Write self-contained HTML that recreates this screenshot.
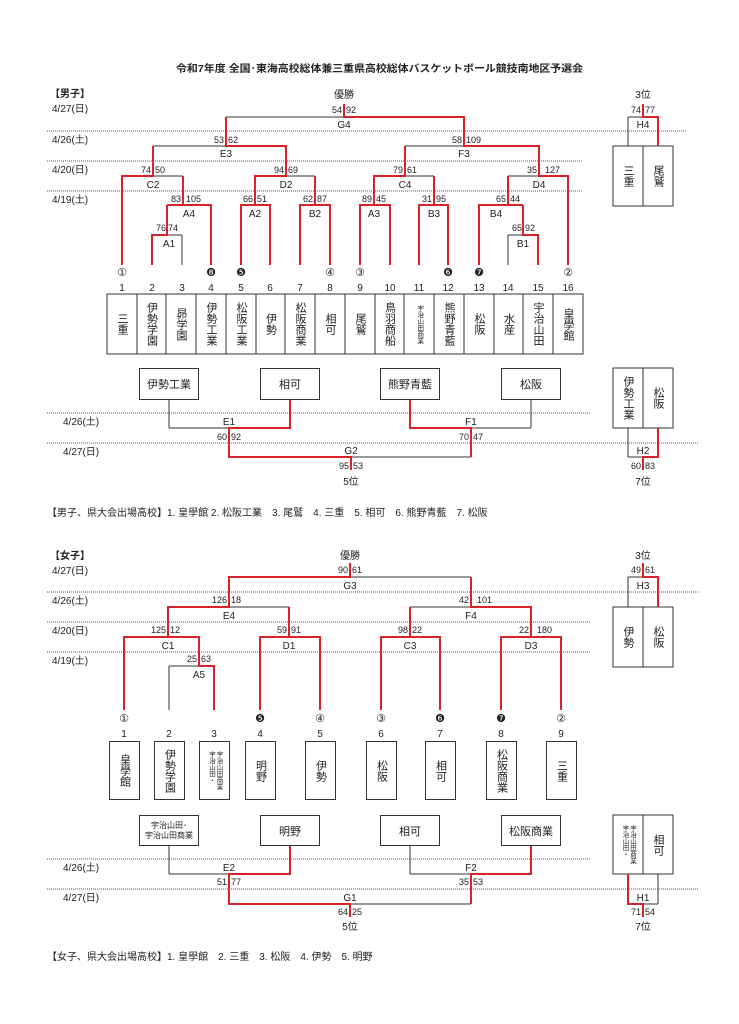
<!DOCTYPE html>
<html><head><meta charset="utf-8">
<style>
body{margin:0;background:#fff;}
#w{position:relative;width:739px;height:1024px;overflow:hidden;font-family:"Liberation Sans","Noto Sans CJK JP",sans-serif;color:#222;}
svg{position:absolute;left:0;top:0;}
.v{position:absolute;display:flex;align-items:center;justify-content:center;}
.v span{writing-mode:vertical-rl;text-orientation:upright;font-size:11px;line-height:12px;letter-spacing:0px;}
.v span.s{font-size:6.5px;line-height:7.5px;}
.h{position:absolute;display:flex;align-items:center;justify-content:center;border:1px solid #333;box-sizing:border-box;font-size:11px;background:#fff;text-align:center;}
</style></head><body><div id="w">
<svg width="739" height="1024" viewBox="0 0 739 1024" font-family="Liberation Sans, Noto Sans CJK JP, sans-serif" fill="#222">
<text x="176" y="72" font-size="10" font-weight="bold" textLength="407" lengthAdjust="spacingAndGlyphs">令和7年度 全国･東海高校総体兼三重県高校総体バスケットボール競技南地区予選会</text>
<g stroke="#555" stroke-width="1" stroke-dasharray="1,1">
<line x1="47" y1="131" x2="687" y2="131"/><line x1="47" y1="161" x2="583" y2="161"/><line x1="47" y1="191" x2="583" y2="191"/>
<line x1="47" y1="413" x2="591" y2="413"/><line x1="47" y1="443" x2="698" y2="443"/>
<line x1="47" y1="592" x2="698" y2="592"/><line x1="47" y1="622" x2="591" y2="622"/><line x1="47" y1="652" x2="591" y2="652"/>
<line x1="47" y1="859" x2="591" y2="859"/><line x1="47" y1="889" x2="698" y2="889"/>
</g>
<g font-size="10">
<text x="50" y="97" font-weight="bold">【男子】</text>
<text x="52" y="112">4/27(日)</text><text x="52" y="143">4/26(土)</text><text x="52" y="173">4/20(日)</text><text x="52" y="203">4/19(土)</text>
<text x="63" y="425">4/26(土)</text><text x="63" y="455">4/27(日)</text>
<text x="50" y="559" font-weight="bold">【女子】</text>
<text x="52" y="574">4/27(日)</text><text x="52" y="604">4/26(土)</text><text x="52" y="634">4/20(日)</text><text x="52" y="664">4/19(土)</text>
<text x="63" y="871">4/26(土)</text><text x="63" y="901">4/27(日)</text>
<text x="47" y="516">【男子、県大会出場高校】1. 皇學館 2. 松阪工業　3. 尾鷲　4. 三重　5. 相可　6. 熊野青藍　7. 松阪</text>
<text x="47" y="960">【女子、県大会出場高校】1. 皇學館　2. 三重　3. 松阪　4. 伊勢　5. 明野</text>
</g>
<!-- black lines -->
<g stroke="#333" stroke-width="1" fill="none">
<line x1="182" y1="265" x2="182" y2="235"/><line x1="167" y1="235" x2="182" y2="235"/>
<line x1="508" y1="265" x2="508" y2="235"/><line x1="508" y1="235" x2="523" y2="235"/>
<line x1="153" y1="176" x2="183" y2="176"/><line x1="286" y1="176" x2="315" y2="176"/>
<line x1="405" y1="176" x2="434" y2="176"/><line x1="508" y1="176" x2="539" y2="176"/>
<line x1="153" y1="146" x2="226" y2="146"/><line x1="405" y1="146" x2="464" y2="146"/>
<line x1="226" y1="117" x2="344" y2="117"/>
<line x1="628" y1="146" x2="628" y2="117"/><line x1="628" y1="117" x2="643" y2="117"/>
<rect x="613" y="146" width="60" height="60"/><line x1="643" y1="146" x2="643" y2="206"/>
<rect x="107" y="294" width="476" height="60"/>
<line x1="137" y1="294" x2="137" y2="354"/><line x1="166" y1="294" x2="166" y2="354"/><line x1="196" y1="294" x2="196" y2="354"/><line x1="226" y1="294" x2="226" y2="354"/><line x1="256" y1="294" x2="256" y2="354"/><line x1="285" y1="294" x2="285" y2="354"/><line x1="315" y1="294" x2="315" y2="354"/><line x1="345" y1="294" x2="345" y2="354"/><line x1="375" y1="294" x2="375" y2="354"/><line x1="404" y1="294" x2="404" y2="354"/><line x1="434" y1="294" x2="434" y2="354"/><line x1="464" y1="294" x2="464" y2="354"/><line x1="494" y1="294" x2="494" y2="354"/><line x1="523" y1="294" x2="523" y2="354"/><line x1="553" y1="294" x2="553" y2="354"/>
<line x1="169" y1="399" x2="169" y2="428"/><line x1="169" y1="428" x2="229" y2="428"/>
<line x1="531" y1="399" x2="531" y2="428"/><line x1="471" y1="428" x2="531" y2="428"/>
<line x1="351" y1="457" x2="471" y2="457"/>
<rect x="613" y="368" width="60" height="60"/><line x1="643" y1="368" x2="643" y2="428"/>
<line x1="628" y1="428" x2="628" y2="457"/><line x1="628" y1="457" x2="643" y2="457"/>
<!-- girls -->
<line x1="169" y1="710" x2="169" y2="666"/><line x1="169" y1="666" x2="199" y2="666"/>
<line x1="229" y1="607" x2="289" y2="607"/><line x1="410" y1="607" x2="471" y2="607"/>
<line x1="350" y1="577" x2="471" y2="577"/>
<rect x="613" y="607" width="60" height="60"/><line x1="643" y1="607" x2="643" y2="667"/>
<line x1="628" y1="607" x2="628" y2="577"/><line x1="628" y1="577" x2="643" y2="577"/>
<line x1="169" y1="845" x2="169" y2="874"/><line x1="169" y1="874" x2="229" y2="874"/>
<line x1="410" y1="845" x2="410" y2="874"/><line x1="410" y1="874" x2="471" y2="874"/>
<line x1="350" y1="904" x2="471" y2="904"/>
<rect x="613" y="815" width="60" height="59"/><line x1="643" y1="815" x2="643" y2="874"/>
<line x1="658" y1="874" x2="658" y2="904"/><line x1="643" y1="904" x2="658" y2="904"/>
</g>
<!-- red lines -->
<g stroke="#d8232a" stroke-width="2" fill="none" stroke-linejoin="miter">
<polyline points="122,265 122,176 153,176 153,146"/>
<polyline points="152,265 152,235 167,235 167,205"/>
<polyline points="211,265 211,205 167,205"/><line x1="183" y1="205" x2="183" y2="176"/>
<polyline points="241,265 241,205 270,205 270,265"/><polyline points="255,205 255,176 286,176 286,146 226,146 226,117"/>
<polyline points="300,265 300,205 330,205 330,265"/><line x1="315" y1="205" x2="315" y2="176"/>
<polyline points="360,265 360,205 390,205 390,265"/><polyline points="374,205 374,176 405,176 405,146"/>
<polyline points="419,265 419,205 448,205 448,265"/><line x1="434" y1="205" x2="434" y2="176"/>
<polyline points="479,265 479,205 523,205"/><polyline points="538,265 538,235 523,235 523,205"/>
<line x1="508" y1="205" x2="508" y2="176"/>
<polyline points="568,265 568,176 539,176 539,146 464,146 464,117 344,117 344,104"/>
<polyline points="658,146 658,117 643,117 643,104"/>
<polyline points="290,399 290,428 229,428 229,457 351,457 351,470"/>
<polyline points="410,399 410,428 471,428 471,457"/>
<polyline points="658,428 658,457 643,457 643,470"/>
<!-- girls -->
<polyline points="124,710 124,637 199,637 199,666 214,666 214,710"/>
<polyline points="168,637 168,607 229,607 229,577 350,577 350,563"/>
<polyline points="260,710 260,637 320,637 320,710"/><polyline points="289,637 289,607"/>
<polyline points="381,710 381,637 440,637 440,710"/><polyline points="410,637 410,607"/>
<polyline points="501,710 501,637 561,637 561,710"/><polyline points="531,637 531,607 471,607 471,577"/>
<polyline points="658,607 658,577 643,577 643,563"/>
<polyline points="290,845 290,874 229,874 229,904 350,904 350,917"/>
<polyline points="531,845 531,874 471,874 471,904"/>
<polyline points="628,874 628,904 643,904 643,917"/>
</g>
<!-- labels & scores -->
<g font-size="10" text-anchor="middle">
<text x="344" y="98">優勝</text><text x="643" y="98">3位</text>
<text x="344" y="128">G4</text><text x="643" y="128">H4</text>
<text x="226" y="157">E3</text><text x="464" y="157">F3</text>
<text x="153" y="188">C2</text><text x="286" y="188">D2</text><text x="405" y="188">C4</text><text x="539" y="188">D4</text>
<text x="189" y="217">A4</text><text x="255" y="217">A2</text><text x="315" y="217">B2</text><text x="374" y="217">A3</text><text x="434" y="217">B3</text><text x="496" y="217">B4</text>
<text x="169" y="247">A1</text><text x="523" y="247">B1</text>
<text x="229" y="425">E1</text><text x="471" y="425">F1</text><text x="351" y="454">G2</text><text x="643" y="454">H2</text>
<text x="351" y="485">5位</text><text x="643" y="485">7位</text>
<text x="350" y="559">優勝</text><text x="643" y="559">3位</text>
<text x="350" y="589">G3</text><text x="643" y="589">H3</text>
<text x="229" y="619">E4</text><text x="471" y="619">F4</text>
<text x="168" y="649">C1</text><text x="289" y="649">D1</text><text x="410" y="649">C3</text><text x="531" y="649">D3</text>
<text x="199" y="678">A5</text>
<text x="229" y="871">E2</text><text x="471" y="871">F2</text><text x="350" y="901">G1</text><text x="643" y="901">H1</text>
<text x="350" y="930">5位</text><text x="643" y="930">7位</text>
</g>
<g font-size="9" text-anchor="end">
<text x="342" y="113">54</text><text x="641" y="113">74</text><text x="224" y="143">53</text><text x="462" y="143">58</text>
<text x="151" y="173">74</text><text x="284" y="173">94</text><text x="403" y="173">79</text><text x="537" y="173">35</text>
<text x="181" y="202">83</text><text x="253" y="202">66</text><text x="313" y="202">62</text><text x="372" y="202">89</text><text x="432" y="202">31</text><text x="506" y="202">65</text>
<text x="166" y="231">76</text><text x="522" y="231">65</text>
<text x="227" y="440">60</text><text x="469" y="440">70</text><text x="349" y="469">95</text><text x="641" y="469">60</text>
<text x="348" y="573">90</text><text x="641" y="573">49</text><text x="227" y="603">126</text><text x="469" y="603">42</text>
<text x="166" y="633">125</text><text x="287" y="633">59</text><text x="408" y="633">98</text><text x="529" y="633">22</text>
<text x="197" y="662">25</text>
<text x="227" y="885">51</text><text x="469" y="885">35</text><text x="348" y="915">64</text><text x="641" y="915">71</text>
</g>
<g font-size="9" text-anchor="start">
<text x="346" y="113">92</text><text x="645" y="113">77</text><text x="228" y="143">62</text><text x="466" y="143">109</text>
<text x="155" y="173">50</text><text x="288" y="173">69</text><text x="407" y="173">61</text><text x="545" y="173">127</text>
<text x="186" y="202">105</text><text x="257" y="202">51</text><text x="317" y="202">87</text><text x="376" y="202">45</text><text x="436" y="202">95</text><text x="510" y="202">44</text>
<text x="168" y="231">74</text><text x="525" y="231">92</text>
<text x="231" y="440">92</text><text x="473" y="440">47</text><text x="353" y="469">53</text><text x="645" y="469">83</text>
<text x="352" y="573">61</text><text x="645" y="573">61</text><text x="231" y="603">18</text><text x="477" y="603">101</text>
<text x="170" y="633">12</text><text x="291" y="633">91</text><text x="412" y="633">22</text><text x="537" y="633">180</text>
<text x="201" y="662">63</text>
<text x="231" y="885">77</text><text x="473" y="885">53</text><text x="352" y="915">25</text><text x="645" y="915">54</text>
</g>
<g font-size="11" text-anchor="middle" font-family="DejaVu Sans, sans-serif">
<text x="122" y="276">①</text><text x="211" y="276">❽</text><text x="241" y="276">❺</text><text x="330" y="276">④</text><text x="360" y="276">③</text><text x="448" y="276">❻</text><text x="479" y="276">❼</text><text x="568" y="276">②</text>
<text x="124" y="722">①</text><text x="260" y="722">❺</text><text x="320" y="722">④</text><text x="381" y="722">③</text><text x="440" y="722">❻</text><text x="501" y="722">❼</text><text x="561" y="722">②</text>
</g>
<g font-size="10" text-anchor="middle">
<text x="122" y="291">1</text><text x="152" y="291">2</text><text x="182" y="291">3</text><text x="211" y="291">4</text><text x="241" y="291">5</text><text x="270" y="291">6</text><text x="300" y="291">7</text><text x="330" y="291">8</text><text x="360" y="291">9</text><text x="390" y="291">10</text><text x="419" y="291">11</text><text x="448" y="291">12</text><text x="479" y="291">13</text><text x="508" y="291">14</text><text x="538" y="291">15</text><text x="568" y="291">16</text>
<text x="124" y="737">1</text><text x="169" y="737">2</text><text x="214" y="737">3</text><text x="260" y="737">4</text><text x="320" y="737">5</text><text x="381" y="737">6</text><text x="440" y="737">7</text><text x="501" y="737">8</text><text x="561" y="737">9</text>
</g>
</svg>
<!-- boys team names -->
<div class="v" style="left:107px;top:294px;width:30px;height:60px"><span>三重</span></div>
<div class="v" style="left:137px;top:294px;width:29px;height:60px"><span>伊勢学園</span></div>
<div class="v" style="left:166px;top:294px;width:30px;height:60px"><span>昴学園</span></div>
<div class="v" style="left:196px;top:294px;width:30px;height:60px"><span>伊勢工業</span></div>
<div class="v" style="left:226px;top:294px;width:30px;height:60px"><span>松阪工業</span></div>
<div class="v" style="left:256px;top:294px;width:29px;height:60px"><span>伊勢</span></div>
<div class="v" style="left:285px;top:294px;width:30px;height:60px"><span>松阪商業</span></div>
<div class="v" style="left:315px;top:294px;width:30px;height:60px"><span>相可</span></div>
<div class="v" style="left:345px;top:294px;width:30px;height:60px"><span>尾鷲</span></div>
<div class="v" style="left:375px;top:294px;width:29px;height:60px"><span>鳥羽商船</span></div>
<div class="v" style="left:404px;top:294px;width:30px;height:60px"><span class="s">宇治山田商業</span></div>
<div class="v" style="left:434px;top:294px;width:30px;height:60px"><span>熊野青藍</span></div>
<div class="v" style="left:464px;top:294px;width:30px;height:60px"><span>松阪</span></div>
<div class="v" style="left:494px;top:294px;width:29px;height:60px"><span>水産</span></div>
<div class="v" style="left:523px;top:294px;width:30px;height:60px"><span>宇治山田</span></div>
<div class="v" style="left:553px;top:294px;width:30px;height:60px"><span>皇學館</span></div>
<div class="v" style="left:613px;top:146px;width:30px;height:60px"><span>三重</span></div>
<div class="v" style="left:643px;top:146px;width:30px;height:60px"><span>尾鷲</span></div>
<div class="v" style="left:613px;top:368px;width:30px;height:60px"><span>伊勢工業</span></div>
<div class="v" style="left:643px;top:368px;width:30px;height:60px"><span>松阪</span></div>
<div class="h" style="left:139px;top:368px;width:60px;height:32px">伊勢工業</div>
<div class="h" style="left:260px;top:368px;width:60px;height:32px">相可</div>
<div class="h" style="left:380px;top:368px;width:60px;height:32px">熊野青藍</div>
<div class="h" style="left:501px;top:368px;width:60px;height:32px">松阪</div>
<!-- girls -->
<div class="h" style="left:109px;top:741px;width:31px;height:59px"></div>
<div class="h" style="left:154px;top:741px;width:31px;height:59px"></div>
<div class="h" style="left:199px;top:741px;width:31px;height:59px"></div>
<div class="h" style="left:245px;top:741px;width:31px;height:59px"></div>
<div class="h" style="left:305px;top:741px;width:31px;height:59px"></div>
<div class="h" style="left:366px;top:741px;width:31px;height:59px"></div>
<div class="h" style="left:425px;top:741px;width:31px;height:59px"></div>
<div class="h" style="left:486px;top:741px;width:31px;height:59px"></div>
<div class="h" style="left:546px;top:741px;width:31px;height:59px"></div>
<div class="v" style="left:109px;top:741px;width:31px;height:59px"><span>皇學館</span></div>
<div class="v" style="left:154px;top:741px;width:31px;height:59px"><span>伊勢学園</span></div>
<div class="v" style="left:199px;top:741px;width:31px;height:59px"><span class="s">宇治山田商業<br>宇治山田・</span></div>
<div class="v" style="left:245px;top:741px;width:31px;height:59px"><span>明野</span></div>
<div class="v" style="left:305px;top:741px;width:31px;height:59px"><span>伊勢</span></div>
<div class="v" style="left:366px;top:741px;width:31px;height:59px"><span>松阪</span></div>
<div class="v" style="left:425px;top:741px;width:31px;height:59px"><span>相可</span></div>
<div class="v" style="left:486px;top:741px;width:31px;height:59px"><span>松阪商業</span></div>
<div class="v" style="left:546px;top:741px;width:31px;height:59px"><span>三重</span></div>
<div class="v" style="left:613px;top:607px;width:30px;height:60px"><span>伊勢</span></div>
<div class="v" style="left:643px;top:607px;width:30px;height:60px"><span>松阪</span></div>
<div class="v" style="left:613px;top:815px;width:30px;height:59px"><span class="s">宇治山田商業<br>宇治山田・</span></div>
<div class="v" style="left:643px;top:815px;width:30px;height:59px"><span>相可</span></div>
<div class="h" style="left:139px;top:815px;width:60px;height:31px;font-size:8px;line-height:10px">宇治山田･<br>宇治山田商業</div>
<div class="h" style="left:260px;top:815px;width:60px;height:31px">明野</div>
<div class="h" style="left:380px;top:815px;width:60px;height:31px">相可</div>
<div class="h" style="left:501px;top:815px;width:60px;height:31px">松阪商業</div>
</div></body></html>
